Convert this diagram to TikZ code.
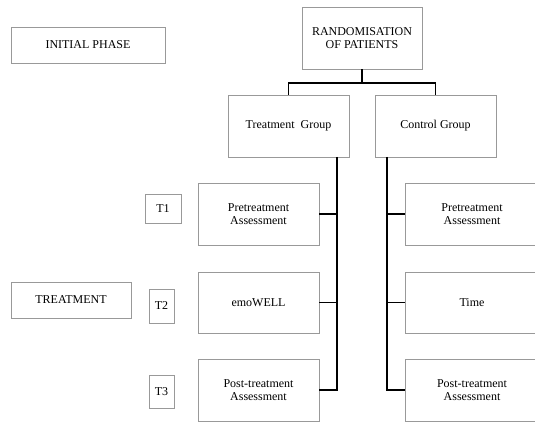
\documentclass[tikz,border=0pt]{standalone}
\usepackage{fontspec}
\setmainfont{Liberation Serif}
\usetikzlibrary{positioning}

\begin{document}
\begin{tikzpicture}[x=1pt, y=-1pt, font=\fontsize{12}{13.5}\selectfont,
                      box/.style={draw=black!40, line width=0.8pt, rectangle, align=center, inner sep=0pt},
                      wide/.style={box, minimum width=121pt, minimum height=62pt},
                      tag/.style={box, minimum width=25pt, minimum height=34pt},
                      link/.style={line width=1.3pt}]
    \useasboundingbox (0,0) rectangle (535,422);
    % phases
    \node[box, minimum width=154pt, minimum height=36pt] (init) at (88,45) {INITIAL PHASE};
    \node[box, minimum width=120pt, minimum height=36pt] (treat) at (71,300) {TREATMENT};
    % top
    \node[box, minimum width=120pt, minimum height=62pt] (rand) at (362,38) {RANDOMISATION\\OF PATIENTS};
    \node[wide] (tg) at (288.5,126) {Treatment\ \ Group};
    \node[wide] (cg) at (435.5,126) {Control Group};
    % treatment arm
    \node[wide] (pre1) at (258.5,214) {Pretreatment\\Assessment};
    \node[wide, minimum height=61pt] (emo) at (258.5,302.5) {emoWELL};
    \node[wide] (post1) at (258.5,390) {Post-treatment\\Assessment};
    % control arm
    \node[wide, minimum width=134pt] (pre2) at (472,214) {Pretreatment\\Assessment};
    \node[wide, minimum width=134pt, minimum height=61pt] (time) at (472,302.5) {Time};
    \node[wide, minimum width=134pt] (post2) at (472,390) {Post-treatment\\Assessment};
    % time points
    \node[tag, minimum width=36pt, minimum height=29pt] (t1) at (163,208.5) {T1};
    \node[tag] (t2) at (161.5,306) {T2};
    \node[tag, minimum height=33pt] (t3) at (161.5,391.5) {T3};
    % connectors
    \coordinate (split) at (362,83);
    \coordinate (ta) at (337,157);
    \coordinate (ca) at (387,157);
    \draw[link] (rand.south) -- (split);
    \draw[link] (split) -| (tg.north);
    \draw[link] (split) -| (cg.north);
    \draw[link] (ta) |- (post1.east);
    \draw[link] (pre1.east) -- (pre1.east -| ta);
    \draw[link] (emo.east) -- (emo.east -| ta);
    \draw[link] (ca) |- (post2.west);
    \draw[link] (pre2.west) -- (pre2.west -| ca);
    \draw[link] (time.west) -- (time.west -| ca);
  \end{tikzpicture}
\end{document}
